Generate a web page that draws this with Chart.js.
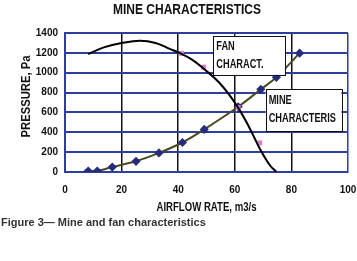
<!DOCTYPE html>
<html>
<head>
<meta charset="utf-8">
<script src="https://cdn.jsdelivr.net/npm/chart.js@4/dist/chart.umd.min.js"></script>
<style>
  html, body { margin: 0; padding: 0; background: #fff; }
  #wrap { position: relative; width: 357px; height: 261px; }
</style>
</head>
<body>
<div id="wrap"><canvas id="chart" width="357" height="261"></canvas></div>
<script>
// values
const mineFlow = [8.2, 11.4, 16.7, 25.1, 33.2, 41.5, 49.2, 61.2, 69.2, 74.7, 82.9];
const minePressure = [10, 10, 50, 108, 192, 297, 429, 657, 833, 954, 1197];

const fanFlow = [8.2, 14, 20, 26.5, 32, 37, 40.6, 45, 48.8, 54.7, 60.6, 65.3, 68.8, 72.4, 74.7];
const fanPressure = [1188, 1258, 1299, 1322, 1300, 1240, 1198, 1130, 1045, 894, 674, 439, 237, 68, 0];

const fanTestFlow = [41.2, 49, 61.2, 68.8];
const fanTestPressure = [1195, 1056, 650, 293];

const xTicks = [0, 20, 40, 60, 80, 100];
const yTicks = [0, 200, 400, 600, 800, 1000, 1200, 1400];

const SANS = '"Liberation Sans", Arial, sans-serif';
const BLUE = '#2d3e9e';

const toXY = (xs, ys) => xs.map((x, i) => ({x: x, y: ys[i]}));

// Arial Narrow look: bold sans squeezed horizontally
function narrowText(ctx, text, x, y, size, squeeze, align, rotate) {
    ctx.save();
    ctx.translate(x, y);
    if (rotate) ctx.rotate(-Math.PI / 2);
    ctx.scale(squeeze, 1);
    ctx.font = 'bold ' + size + 'px ' + SANS;
    ctx.textAlign = align;
    ctx.textBaseline = 'middle';
    ctx.fillText(text, 0, 0);
    ctx.restore();
}

// text boxes, titles and caption
const decorations = {
    id: 'decorations',
    afterDatasetsDraw(chart) {
        const ctx = chart.ctx;
        const xs = chart.scales.x, ys = chart.scales.y;
        const boxes = [
            {x0: 52.4, x1: 77.7, y0: 1372, y1: 978, lines: ['FAN', 'CHARACT.'], at: [0.27, 0.74]},
            {x0: 70.9, x1: 97.7, y0: 836, y1: 412, lines: ['MINE', 'CHARACTERIS'], at: [0.27, 0.71]}
        ];
        boxes.forEach(b => {
            const l = xs.getPixelForValue(b.x0), r = xs.getPixelForValue(b.x1);
            const t = ys.getPixelForValue(b.y0), bt = ys.getPixelForValue(b.y1);
            ctx.save();
            ctx.fillStyle = '#fff';
            ctx.fillRect(l, t, r - l, bt - t);
            ctx.strokeStyle = '#111';
            ctx.lineWidth = 1;
            ctx.strokeRect(Math.round(l) + 0.5, Math.round(t) + 0.5, Math.round(r - l), Math.round(bt - t));
            ctx.fillStyle = '#111';
            const h = bt - t;
            narrowText(ctx, b.lines[0], l + 3, t + h * b.at[0], 12.5, 0.74, 'left');
            narrowText(ctx, b.lines[1], l + 3, t + h * b.at[1], 12.5, 0.74, 'left');
            ctx.restore();
        });
    },
    afterDraw(chart) {
        const ctx = chart.ctx;
        const area = chart.chartArea;
        ctx.save();
        ctx.fillStyle = '#111';
        narrowText(ctx, 'MINE CHARACTERISTICS', 187, 10, 15, 0.8, 'center');
        narrowText(ctx, 'AIRFLOW RATE, m3/s', (area.left + area.right) / 2, 208, 12, 0.8, 'center');
        narrowText(ctx, 'PRESSURE, Pa', 27, (area.top + area.bottom) / 2 - 6, 12.5, 0.9, 'center', true);
        ctx.fillStyle = '#333';
        ctx.font = 'bold 11px ' + SANS;
        ctx.textAlign = 'left';
        ctx.textBaseline = 'middle';
        ctx.fillText('Figure 3\u2014 Mine and fan characteristics', 1, 223);
        ctx.restore();
    }
};

const ctx = document.getElementById('chart').getContext('2d');
new Chart(ctx, {
    type: 'scatter',
    data: {
        datasets: [
            {
                label: 'Fan characteristic',
                data: toXY(fanFlow, fanPressure),
                showLine: true,
                borderColor: '#000',
                borderWidth: 2,
                pointRadius: 0,
                tension: 0.4
            },
            {
                label: 'Fan test points',
                data: toXY(fanTestFlow, fanTestPressure),
                showLine: false,
                pointStyle: 'rect',
                pointRadius: 3.5,
                backgroundColor: '#dc80c4',
                borderColor: '#dc80c4',
                borderWidth: 0
            },
            {
                label: 'Mine characteristic',
                data: toXY(mineFlow, minePressure),
                showLine: true,
                borderColor: '#4a4a22',
                borderWidth: 2,
                tension: 0.3,
                pointStyle: 'rectRot',
                pointRadius: 4.6,
                backgroundColor: '#262b7c',
                pointBorderColor: '#262b7c',
                pointBorderWidth: 0
            }
        ]
    },
    options: {
        responsive: false,
        animation: false,
        events: [],
        layout: { padding: { top: 33, right: 9, left: 0, bottom: 0 } },
        plugins: {
            legend: { display: false },
            title: { display: false },
            tooltip: { enabled: false }
        },
        scales: {
            x: {
                type: 'linear',
                min: 0,
                max: 100,
                afterFit: (scale) => {
                    scale.height = 89;
                    scale.paddingLeft = 0;
                    scale.paddingRight = 0;
                },
                afterBuildTicks: (scale) => { scale.ticks = xTicks.map(v => ({value: v})); },
                ticks: {
                    padding: 12,
                    color: '#111',
                    font: { family: SANS, size: 10, weight: 'bold' },
                    callback: (v) => String(v)
                },
                grid: {
                    drawTicks: false,
                    color: (c) => (c.tick && (c.tick.value === 0 || c.tick.value === 100)) ? BLUE : '#111',
                    lineWidth: 1.5
                },
                border: { color: BLUE, width: 2 }
            },
            y: {
                min: 0,
                max: 1400,
                afterFit: (scale) => {
                    scale.width = 65;
                    scale.paddingTop = 0;
                    scale.paddingBottom = 0;
                },
                afterBuildTicks: (scale) => { scale.ticks = yTicks.map(v => ({value: v})); },
                ticks: {
                    padding: 7,
                    color: '#111',
                    font: { family: SANS, size: 10, weight: 'bold' },
                    callback: (v) => String(v)
                },
                grid: {
                    drawTicks: false,
                    color: BLUE,
                    lineWidth: 2
                },
                border: { color: BLUE, width: 2 }
            }
        }
    },
    plugins: [decorations]
});
</script>
</body>
</html>
